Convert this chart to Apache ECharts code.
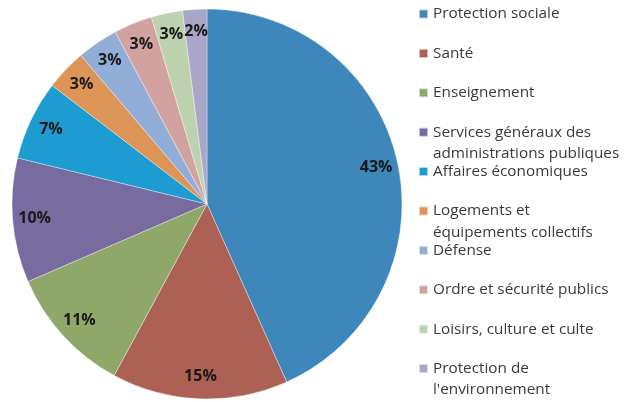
<!DOCTYPE html>
<html>
<head>
<meta charset="utf-8">
<script src="https://cdn.jsdelivr.net/npm/echarts@6/dist/echarts.min.js"></script>
<style>
html,body{margin:0;padding:0;background:#fff;}
#chart{width:626px;height:402px;}
</style>
</head>
<body>
<div id="chart"></div>
<script>
const categories = [
  "Protection sociale",
  "Santé",
  "Enseignement",
  "Services généraux des\nadministrations publiques",
  "Affaires économiques",
  "Logements et\néquipements collectifs",
  "Défense",
  "Ordre et sécurité publics",
  "Loisirs, culture et culte",
  "Protection de\nl'environnement"
];
const values = [43.3, 14.6, 10.6, 10.3, 6.6, 3.4, 3.4, 3.2, 2.6, 2.0];
const colors = ["#3E87BA", "#AD6054", "#8FA86A", "#786BA0", "#1C9CD0", "#DC9457", "#92AED8", "#D1A2A0", "#BDD3B0", "#A9A6C8"];

const FONT = "'Open Sans', sans-serif";
const data = categories.map((n, i) => ({ name: n, value: values[i], itemStyle: { color: colors[i] } }));

const legendStart = 14, legendStep = 39.4, lineH = 21.5;
const legends = categories.map((n, i) => {
  const lines = n.split("\n").length;
  const center = legendStart + legendStep * i;
  // multi-line labels: prepend empty lines so the marker lines up with the first line
  const shown = lines > 1 ? "\n".repeat(lines - 1) + n : n;
  const boxH = (2 * lines - 1) * lineH;
  return {
    orient: 'vertical',
    left: 418,
    top: center - boxH / 2,
    padding: 0,
    data: [n],
    formatter: () => shown,
    icon: 'rect',
    itemWidth: 9,
    itemHeight: 9,
    selectedMode: false,
    textStyle: {
      fontFamily: FONT,
      fontSize: 15.3,
      color: '#3a3a3a',
      lineHeight: lineH
    }
  };
});

const chart = echarts.init(document.getElementById('chart'));
chart.setOption({
  animation: false,
  color: colors,
  legend: legends,
  series: [
    {
      type: 'pie',
      center: [207, 204],
      radius: 195,
      startAngle: 90,
      clockwise: true,
      data: data,
      label: { show: false },
      labelLine: { show: false },
      itemStyle: { borderColor: 'rgba(255,255,255,0.6)', borderWidth: 0.6 },
      emphasis: { disabled: true }
    },
    {
      type: 'pie',
      center: [207, 204],
      radius: [145, 195],
      startAngle: 90,
      clockwise: true,
      silent: true,
      legendHoverLink: false,
      data: data.map(d => ({ name: d.name, value: d.value, itemStyle: { color: 'rgba(0,0,0,0)' } })),
      itemStyle: { borderWidth: 0 },
      label: {
        show: true,
        position: 'inside',
        fontFamily: FONT,
        fontWeight: 'bold',
        fontSize: 16,
        color: '#1a1a1a',
        formatter: p => Math.round(p.value) + '%'
      },
      labelLine: { show: false },
      emphasis: { disabled: true }
    }
  ]
});
</script>
</body>
</html>
